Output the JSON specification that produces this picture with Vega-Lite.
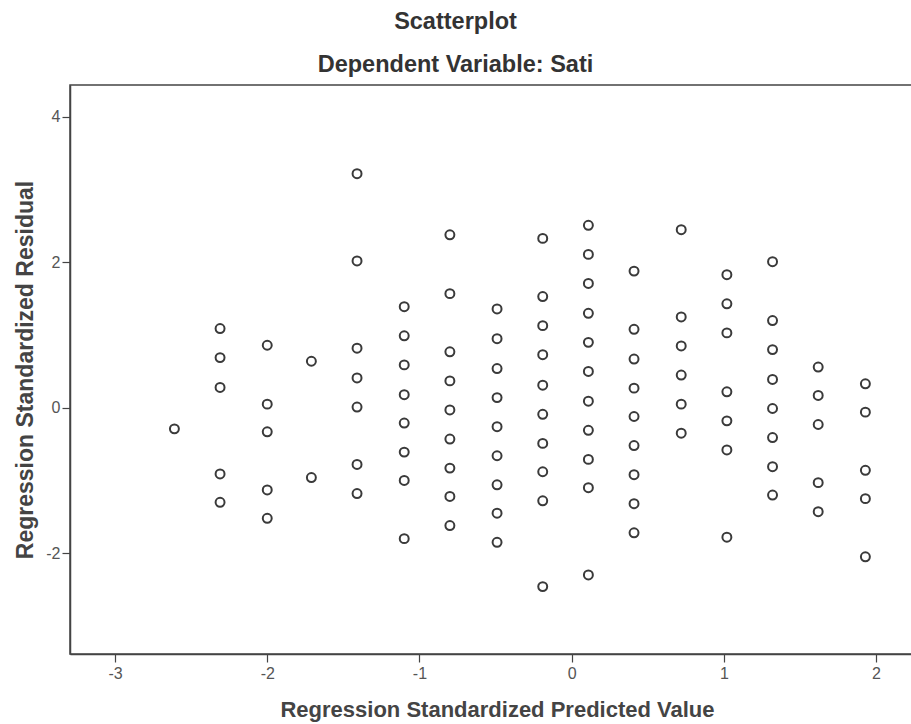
{
  "$schema": "https://vega.github.io/schema/vega-lite/v6.json",
  "autosize": {"type": "none"},
  "padding": {"left": 70, "top": 85, "right": 0, "bottom": 70},
  "width": 845,
  "height": 569,
  "background": "white",
  "title": {
    "text": "Scatterplot",
    "subtitle": "Dependent Variable: Sati",
    "anchor": "middle",
    "frame": "group",
    "dx": -37,
    "offset": 9,
    "font": "Liberation Sans",
    "fontSize": 23.5,
    "fontWeight": "bold",
    "color": "#333333",
    "subtitleFont": "Liberation Sans",
    "subtitleFontSize": 23.5,
    "subtitleFontWeight": "bold",
    "subtitleColor": "#333333",
    "subtitlePadding": 19
  },
  "config": {
    "view": {"stroke": "#444444", "strokeWidth": 1.5},
    "axis": {
      "grid": false,
      "domainColor": "#444444",
      "domainWidth": 1.5,
      "tickColor": "#444444",
      "tickWidth": 1.2,
      "tickSize": 8,
      "labelFont": "Liberation Sans",
      "labelFontSize": 16,
      "labelColor": "#555555",
      "titleFont": "Liberation Sans",
      "titleFontWeight": "bold",
      "titleColor": "#444444"
    }
  },
  "data": {
    "values": [
      {"pred": -2.61, "resid": -0.29},
      {"pred": -2.31, "resid": 1.09},
      {"pred": -2.31, "resid": 0.69},
      {"pred": -2.31, "resid": 0.28},
      {"pred": -2.31, "resid": -0.91},
      {"pred": -2.31, "resid": -1.30},
      {"pred": -2.00, "resid": 0.86},
      {"pred": -2.00, "resid": 0.05},
      {"pred": -2.00, "resid": -0.33},
      {"pred": -2.00, "resid": -1.13},
      {"pred": -2.00, "resid": -1.52},
      {"pred": -1.71, "resid": 0.64},
      {"pred": -1.71, "resid": -0.96},
      {"pred": -1.41, "resid": 3.22},
      {"pred": -1.41, "resid": 2.02},
      {"pred": -1.41, "resid": 0.82},
      {"pred": -1.41, "resid": 0.41},
      {"pred": -1.41, "resid": 0.01},
      {"pred": -1.41, "resid": -0.78},
      {"pred": -1.41, "resid": -1.18},
      {"pred": -1.10, "resid": 1.39},
      {"pred": -1.10, "resid": 0.99},
      {"pred": -1.10, "resid": 0.59},
      {"pred": -1.10, "resid": 0.18},
      {"pred": -1.10, "resid": -0.21},
      {"pred": -1.10, "resid": -0.61},
      {"pred": -1.10, "resid": -1.00},
      {"pred": -1.10, "resid": -1.80},
      {"pred": -0.80, "resid": 2.38},
      {"pred": -0.80, "resid": 1.57},
      {"pred": -0.80, "resid": 0.77},
      {"pred": -0.80, "resid": 0.37},
      {"pred": -0.80, "resid": -0.03},
      {"pred": -0.80, "resid": -0.43},
      {"pred": -0.80, "resid": -0.83},
      {"pred": -0.80, "resid": -1.22},
      {"pred": -0.80, "resid": -1.62},
      {"pred": -0.49, "resid": 1.36},
      {"pred": -0.49, "resid": 0.95},
      {"pred": -0.49, "resid": 0.54},
      {"pred": -0.49, "resid": 0.14},
      {"pred": -0.49, "resid": -0.26},
      {"pred": -0.49, "resid": -0.66},
      {"pred": -0.49, "resid": -1.06},
      {"pred": -0.49, "resid": -1.45},
      {"pred": -0.49, "resid": -1.85},
      {"pred": -0.19, "resid": 2.33},
      {"pred": -0.19, "resid": 1.53},
      {"pred": -0.19, "resid": 1.13},
      {"pred": -0.19, "resid": 0.73},
      {"pred": -0.19, "resid": 0.31},
      {"pred": -0.19, "resid": -0.09},
      {"pred": -0.19, "resid": -0.49},
      {"pred": -0.19, "resid": -0.88},
      {"pred": -0.19, "resid": -1.28},
      {"pred": -0.19, "resid": -2.46},
      {"pred": 0.11, "resid": 2.51},
      {"pred": 0.11, "resid": 2.11},
      {"pred": 0.11, "resid": 1.71},
      {"pred": 0.11, "resid": 1.30},
      {"pred": 0.11, "resid": 0.90},
      {"pred": 0.11, "resid": 0.50},
      {"pred": 0.11, "resid": 0.09},
      {"pred": 0.11, "resid": -0.31},
      {"pred": 0.11, "resid": -0.71},
      {"pred": 0.11, "resid": -1.10},
      {"pred": 0.11, "resid": -2.30},
      {"pred": 0.41, "resid": 1.88},
      {"pred": 0.41, "resid": 1.08},
      {"pred": 0.41, "resid": 0.67},
      {"pred": 0.41, "resid": 0.27},
      {"pred": 0.41, "resid": -0.12},
      {"pred": 0.41, "resid": -0.52},
      {"pred": 0.41, "resid": -0.92},
      {"pred": 0.41, "resid": -1.32},
      {"pred": 0.41, "resid": -1.72},
      {"pred": 0.72, "resid": 2.45},
      {"pred": 0.72, "resid": 1.25},
      {"pred": 0.72, "resid": 0.85},
      {"pred": 0.72, "resid": 0.45},
      {"pred": 0.72, "resid": 0.05},
      {"pred": 0.72, "resid": -0.35},
      {"pred": 1.02, "resid": 1.83},
      {"pred": 1.02, "resid": 1.43},
      {"pred": 1.02, "resid": 1.03},
      {"pred": 1.02, "resid": 0.22},
      {"pred": 1.02, "resid": -0.18},
      {"pred": 1.02, "resid": -0.58},
      {"pred": 1.02, "resid": -1.78},
      {"pred": 1.32, "resid": 2.01},
      {"pred": 1.32, "resid": 1.20},
      {"pred": 1.32, "resid": 0.80},
      {"pred": 1.32, "resid": 0.39},
      {"pred": 1.32, "resid": -0.01},
      {"pred": 1.32, "resid": -0.41},
      {"pred": 1.32, "resid": -0.81},
      {"pred": 1.32, "resid": -1.20},
      {"pred": 1.62, "resid": 0.56},
      {"pred": 1.62, "resid": 0.17},
      {"pred": 1.62, "resid": -0.23},
      {"pred": 1.62, "resid": -1.03},
      {"pred": 1.62, "resid": -1.43},
      {"pred": 1.93, "resid": 0.33},
      {"pred": 1.93, "resid": -0.06},
      {"pred": 1.93, "resid": -0.86},
      {"pred": 1.93, "resid": -1.25},
      {"pred": 1.93, "resid": -2.05}
    ]
  },
  "mark": {"type": "point", "shape": "circle", "filled": false, "size": 80, "strokeWidth": 2, "color": "#3a3a3a", "opacity": 1},
  "encoding": {
    "x": {
      "field": "pred",
      "type": "quantitative",
      "scale": {"domain": [-3.296, 2.256], "nice": false, "zero": false},
      "axis": {
        "title": "Regression Standardized Predicted Value",
        "titleFontSize": 22,
        "values": [-3, -2, -1, 0, 1, 2],
        "labelExpr": "'' + datum.value",
        "labelPadding": 3,
        "titleX": 427,
        "titleY": 62.5,
        "titleBaseline": "alphabetic",
        "titleAnchor": "middle",
        "titleAlign": "center"
      }
    },
    "y": {
      "field": "resid",
      "type": "quantitative",
      "scale": {"domain": [-3.387, 4.44], "nice": false, "zero": false},
      "axis": {
        "title": "Regression Standardized Residual",
        "titleFontSize": 23,
        "values": [-2, 0, 2, 4],
        "labelExpr": "'' + datum.value",
        "labelPadding": 2,
        "titleX": -38,
        "titleBaseline": "alphabetic"
      }
    }
  }
}
